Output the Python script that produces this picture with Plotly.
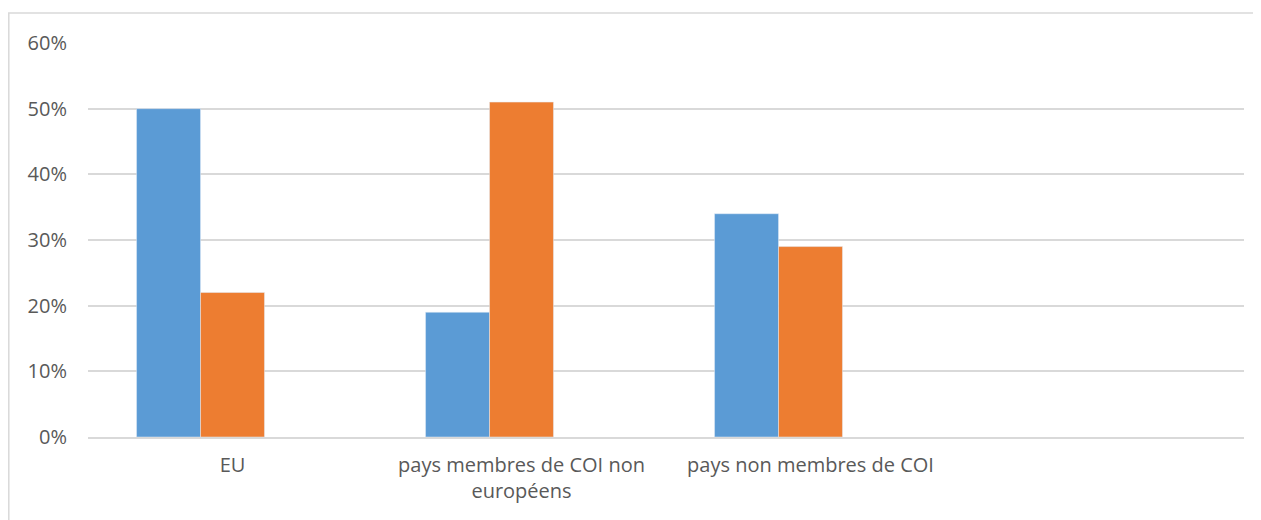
import plotly.graph_objects as go

categories = ["EU", "pays membres de COI non<br>européens", "pays non membres de COI", " "]
serie_bleue = [0.50, 0.19, 0.34, None]
serie_orange = [0.22, 0.51, 0.29, None]
serie_vide = [None, None, None, None]  # 3e série sans valeurs (place réservée dans Excel)
ticks_y = [0, 0.1, 0.2, 0.3, 0.4, 0.5, 0.6]
ticks_y_txt = ["0%", "10%", "20%", "30%", "40%", "50%", "60%"]

fig = go.Figure()
fig.add_trace(go.Bar(x=categories, y=serie_bleue, marker_color="#5B9BD5", name="série 1"))
fig.add_trace(go.Bar(x=categories, y=serie_orange, marker_color="#ED7D31", name="série 2"))
fig.add_trace(go.Bar(x=categories, y=serie_vide, marker_color="#A5A5A5", name="série 3"))

# la page ajoute 8px de marge autour de la figure
W, H = 1253, 512
L, R, T, B = 80, 17, 35, 83
pw, ph = W - L - R, H - T - B
fig.add_shape(type="rect", xref="paper", yref="paper",
              x0=(0.8 - L) / pw, x1=(W + 5 - L) / pw,
              y0=-(B + 5) / ph, y1=(H - B - 5) / ph,
              line=dict(color="#d9d9d9", width=1.5), layer="below")

fig.update_layout(
    width=W, height=H,
    margin=dict(l=L, r=R, t=T, b=B),
    paper_bgcolor="white", plot_bgcolor="white",
    barmode="group", bargap=0.336, bargroupgap=0,
    showlegend=False,
    font=dict(family="Open Sans, Liberation Sans, sans-serif", size=20, color="#595959"),
    xaxis=dict(type="category", categoryarray=categories, showgrid=False,
               showline=True, linecolor="#d9d9d9", linewidth=1.5,
               ticks="", ticklabelstandoff=9),
    yaxis=dict(range=[0, 0.6], tickvals=ticks_y, ticktext=ticks_y_txt,
               showgrid=True, gridcolor="#d9d9d9", gridwidth=1.5,
               zeroline=False, showline=False, ticks="", ticklabelstandoff=20),
)

fig.write_html("out.html")
